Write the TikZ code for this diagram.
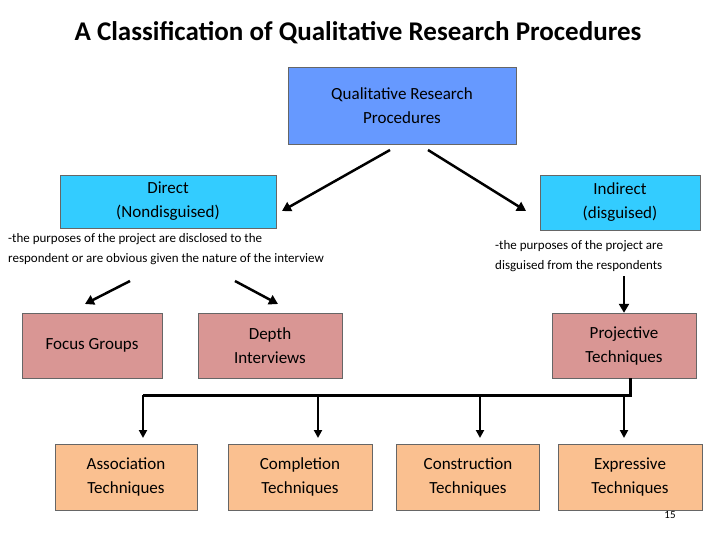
\documentclass[tikz,border=0pt]{standalone}
\usepackage{fontspec}
\setmainfont{Carlito}
\usetikzlibrary{arrows.meta}
\definecolor{topb}{HTML}{6699FF}
\definecolor{cyanb}{HTML}{33CCFF}
\definecolor{pinkb}{HTML}{D99694}
\definecolor{orb}{HTML}{FAC090}
\begin{document}
\begin{tikzpicture}[x=1pt,y=-1pt,
 box/.style={draw=black!60,align=center,font=\fontsize{17}{24}\selectfont,inner sep=0pt},
 arr/.style={line width=2.5pt,-{Triangle[length=9pt,width=10pt]}},
 note/.style={align=left,font=\fontsize{13}{20}\selectfont,anchor=north west,inner sep=0pt}]
\useasboundingbox (0,0) rectangle (720,540);
\node[font=\bfseries\fontsize{27}{32}\selectfont] (title) at (358,33) {A Classification of Qualitative Research Procedures};
\node[box,fill=topb,minimum width=228pt,minimum height=77pt] (top) at (402,105.5) {Qualitative Research\\Procedures};
\node[box,fill=cyanb,minimum width=216pt,minimum height=53pt] (dir) at (168,201.5) {Direct\\(Nondisguised)};
\node[box,fill=cyanb,minimum width=160pt,minimum height=55pt] (ind) at (620,202.5) {Indirect\\(disguised)};
\coordinate (t1) at (390,150); \coordinate (t2) at (428,150);
\coordinate (d1) at (282,211); \coordinate (i1) at (526,211);
\draw[arr] (t1) -- (d1);
\draw[arr] (t2) -- (i1);
\node[note] (nl) at (8,233) {-the purposes of the project are disclosed to the\\respondent or are obvious given the nature of the interview};
\node[note] (nr) at (495,240) {-the purposes of the project are\\disguised from the respondents};
\node[box,fill=pinkb,minimum width=140pt,minimum height=65pt] (fg) at (92,345.5) {Focus Groups};
\node[box,fill=pinkb,minimum width=144pt,minimum height=65pt] (di) at (270,345.5) {Depth\\Interviews};
\node[box,fill=pinkb,minimum width=144pt,minimum height=65pt] (pt) at (624,345.5) {Projective\\Techniques};
\coordinate (a1) at (130,281); \coordinate (a2) at (235,281); \coordinate (a3) at (624,276);
\draw[arr] (a1) -- (85,304);
\draw[arr] (a2) -- (278,304);
\draw[arr] (a3) -- (pt.north);
\node[box,fill=orb,minimum width=142pt,minimum height=66pt] (as) at (126,477) {Association\\Techniques};
\node[box,fill=orb,minimum width=144pt,minimum height=66pt] (co) at (300,477) {Completion\\Techniques};
\node[box,fill=orb,minimum width=143pt,minimum height=66pt] (cn) at (468,477) {Construction\\Techniques};
\node[box,fill=orb,minimum width=144pt,minimum height=66pt] (ex) at (630,477) {Expressive\\Techniques};
\coordinate (h) at (630,395);
\draw[line width=3pt] (pt.south -| 630,0) -- (h) -- (143,395);
\foreach \n/\xx in {as/143,co/318,cn/480,ex/624}
  \draw[line width=2pt,-{Triangle[length=8pt,width=8pt]}] (\xx,395) -- (\xx,438);
\node[font=\fontsize{11}{12}\selectfont] (pg) at (670,515) {15};
\end{tikzpicture}
\end{document}
